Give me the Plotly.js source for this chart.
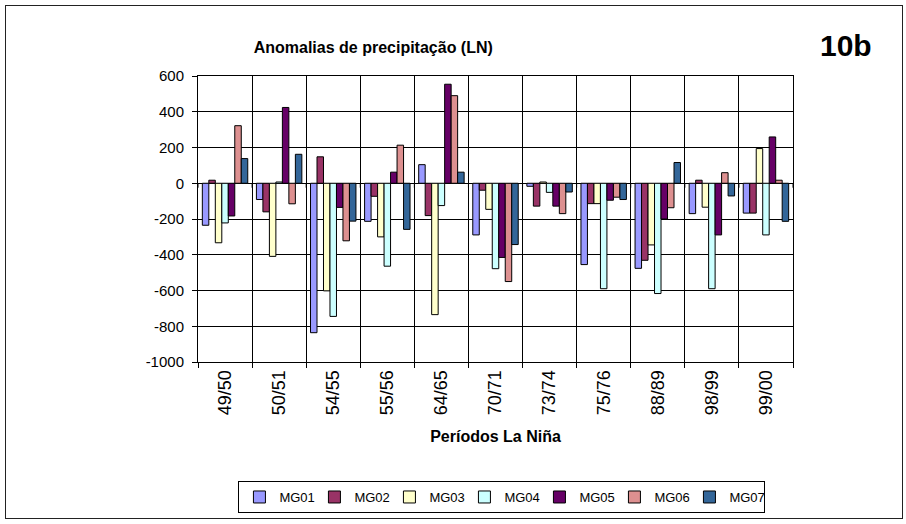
<!DOCTYPE html>
<html>
<head>
<meta charset="utf-8">
<script src="https://cdn.plot.ly/plotly-3.0.1.min.js"></script>
<style>
html,body{margin:0;padding:0;background:#fff;}
#wrap{position:relative;width:906px;height:524px;}
#chart{position:absolute;left:0;top:0;width:906px;height:524px;}
#frame{position:absolute;left:5px;top:5px;width:896px;height:512px;border:1px solid #222;pointer-events:none;}
</style>
</head>
<body>
<div id="wrap"><div id="chart"></div><div id="frame"></div></div>
<script>
const categories = ['49/50','50/51','54/55','55/56','64/65','70/71','73/74','75/76','88/89','98/99','99/00'];
const seriesNames = ['MG01','MG02','MG03','MG04','MG05','MG06','MG07'];
const MG01 = [-235, -91, -836, -213, 104, -289, -17, -455, -476, -170, -167];
const MG02 = [17, -160, 148, -73, -181, -39, -128, -114, -431, 17, -167];
const MG03 = [-333, -409, -602, -300, -735, -146, 7, -114, -345, -134, 194];
const MG04 = [-222, 7, -745, -464, -125, -478, -51, -590, -617, -590, -289];
const MG05 = [-183, 424, -135, 62, 554, -415, -128, -95, -200, -289, 259];
const MG06 = [322, -115, -322, 213, 490, -550, -170, -78, -137, 59, 17];
const MG07 = [138, 162, -212, -258, 62, -343, -49, -91, 116, -71, -213];
const yTicks = [600, 400, 200, 0, -200, -400, -600, -800, -1000];

const values = [MG01, MG02, MG03, MG04, MG05, MG06, MG07];
const colors = ['#9999FF','#993366','#FFFFCC','#CCFFFF','#660066','#DD9090','#336699'];

const traces = values.map((v, i) => ({
  type: 'bar',
  name: seriesNames[i],
  x: categories,
  y: v,
  marker: {color: colors[i], line: {color: '#000', width: 1}},
  hoverinfo: 'x+y+name'
}));

// small tick marks where the category axis crosses at zero
const shapes = [];
for (let i = 0; i <= categories.length; i++) {
  shapes.push({type:'line', xref:'x', yref:'y', x0: i - 0.5, x1: i - 0.5, y0: 0, y1: -25,
    line:{color:'#000', width:1}});
}

const FONT = 'Liberation Sans, Arial, sans-serif';
const layout = {
  width: 906, height: 524,
  margin: {l: 198, r: 113, t: 76, b: 162},
  paper_bgcolor: '#fff', plot_bgcolor: '#fff',
  font: {family: FONT, size: 12, color: '#000'},
  title: {text: '<b>Anomalias de precipitação (LN)</b>', x: 0.412, xanchor: 'center', y: 0.91, yanchor: 'middle',
    font: {size: 16, family: FONT, color: '#000'}},
  barmode: 'group',
  bargap: 0.16,
  bargroupgap: 0,
  showlegend: true,
  legend: {orientation: 'h', xref: 'container', x: 0.554, xanchor: 'center', yref: 'container', y: 0.082, yanchor: 'top',
    bordercolor: '#000', borderwidth: 1, bgcolor: '#fff',
    font: {size: 13, family: FONT}, itemwidth: 30, tracegroupgap: 0,
    entrywidth: 30, entrywidthmode: 'pixels',
    traceorder: 'normal'},
  xaxis: {
    type: 'category', categoryorder: 'array', categoryarray: categories,
    tickson: 'boundaries', showgrid: true, gridcolor: '#000', gridwidth: 1,
    ticks: 'outside', ticklen: 5, tickcolor: '#000',
    showline: true, linecolor: '#000', linewidth: 1, mirror: true,
    tickangle: -90, tickfont: {size: 18}, automargin: false,
    title: {text: '<b>Períodos La Niña</b>', font: {size: 16}, standoff: 16},
    range: [-0.5, categories.length - 0.5], fixedrange: true
  },
  yaxis: {
    range: [-1000, 600], tickvals: yTicks, ticktext: yTicks.map(String),
    showgrid: true, gridcolor: '#000', gridwidth: 1,
    zeroline: true, zerolinecolor: '#000', zerolinewidth: 1,
    ticks: 'outside', ticklen: 5, tickcolor: '#000',
    showline: true, linecolor: '#000', linewidth: 1, mirror: true,
    tickfont: {size: 15}, automargin: false, ticklabelstandoff: 5, fixedrange: true
  },
  shapes: shapes,
  annotations: [{
    text: '<b>10b</b>', xref: 'paper', yref: 'paper', x: 1.089, y: 1.105, xanchor: 'center', yanchor: 'middle',
    showarrow: false, font: {size: 30, family: FONT, color: '#000'}
  }]
};

Plotly.newPlot('chart', traces, layout, {displayModeBar: false, staticPlot: true});
</script>
</body>
</html>
